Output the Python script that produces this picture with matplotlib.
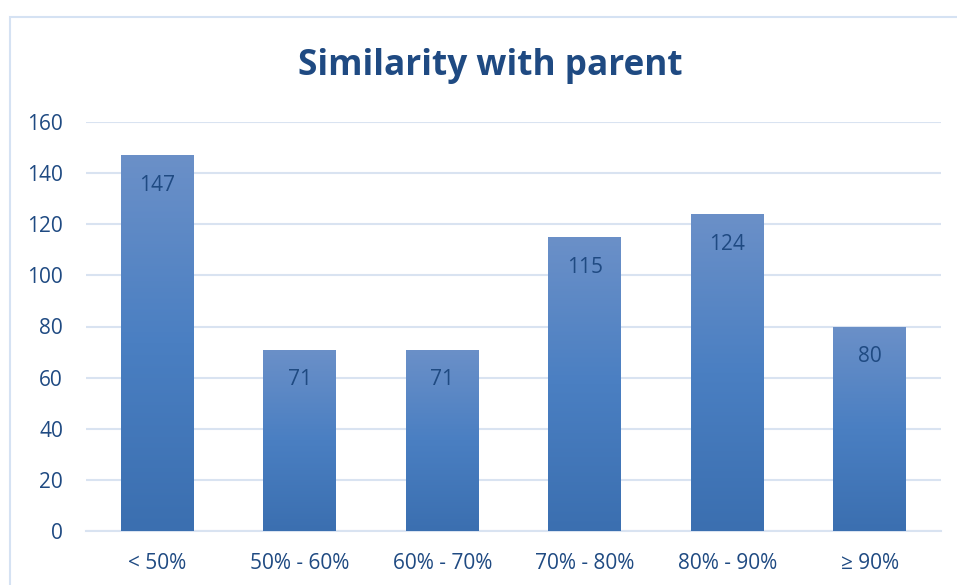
import matplotlib
matplotlib.use("Agg")
import matplotlib.pyplot as plt
import numpy as np
from matplotlib.colors import LinearSegmentedColormap
from matplotlib.patches import Rectangle

categories = ["< 50%", "50% - 60%", "60% - 70%", "70% - 80%", "80% - 90%", "\u2265 90%"]
counts = [147, 71, 71, 115, 124, 80]
y_ticks = [0, 20, 40, 60, 80, 100, 120, 140, 160]

plt.rcParams["font.family"] = ["Open Sans", "DejaVu Sans"]
navy = "#1F4A82"
grid_col = "#D9E3F1"

fig = plt.figure(figsize=(9.57, 5.85), dpi=100)
W, H = 957, 585

# chart frame (runs past the right and bottom edges)
fig.patches.append(Rectangle((10 / W, -0.1), 1.2, (H - 17) / H + 0.1, transform=fig.transFigure,
                             fill=False, edgecolor="#D5E2F3", linewidth=1.5, zorder=0))

ax = fig.add_axes([86 / W, (H - 531) / H, (941 - 86) / W, (531 - 122) / H])
x = np.arange(len(categories))
width = 0.51

cmap = LinearSegmentedColormap.from_list("bar", ["#3B6FB0", "#4A7FC2", "#6B90C8"])
grad = np.linspace(0, 1, 256).reshape(-1, 1)
bars = ax.bar(x, counts, width=width, color="none", edgecolor="none", zorder=3)
for b, v in zip(bars, counts):
    x0 = b.get_x()
    im = ax.imshow(grad, cmap=cmap, origin="lower", aspect="auto",
                   extent=[x0, x0 + b.get_width(), 0, v], zorder=3, interpolation="bicubic")
    im.set_clip_path(b)
    ax.annotate(str(v), (b.get_x() + b.get_width() / 2, v), xytext=(0, -30),
                textcoords="offset pixels",
                ha="center", va="center", fontsize=15, color=navy, zorder=4)

ax.set_xlim(-0.5, len(categories) - 0.5)
ax.set_ylim(0, 160)
ax.set_yticks(y_ticks)
ax.set_xticks(x)
ax.set_xticklabels(categories)
ax.tick_params(axis="both", length=0, labelsize=15, labelcolor=navy)
ax.tick_params(axis="y", pad=16.5)
ax.tick_params(axis="x", pad=15.5)
ax.grid(axis="y", color=grid_col, linewidth=1.5, zorder=0)
ax.set_axisbelow(True)
for s in ["top", "right", "left"]:
    ax.spines[s].set_visible(False)
ax.spines["bottom"].set_color(grid_col)
ax.spines["bottom"].set_linewidth(1.5)

fig.text(490 / W, (H - 66) / H, "Similarity with parent", ha="center", va="center",
         fontsize=25.3, fontweight="bold", color=navy)

fig.savefig("out.png", dpi=100, facecolor="white")
